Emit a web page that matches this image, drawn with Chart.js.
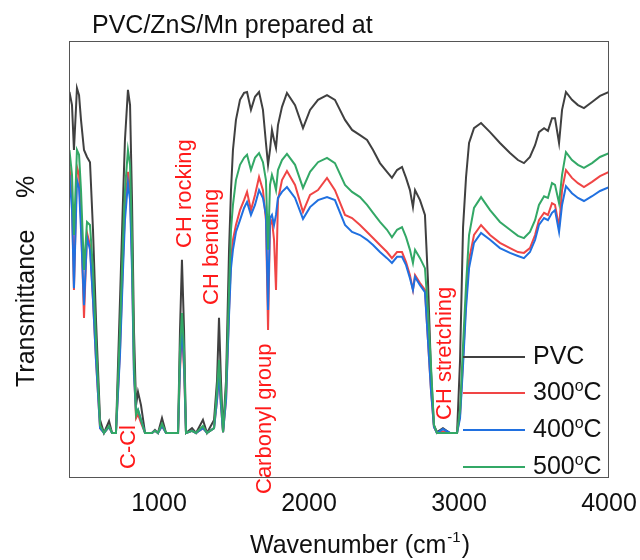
<!DOCTYPE html>
<html>
<head>
<meta charset="utf-8">
<script src="https://cdn.jsdelivr.net/npm/chart.js@4.4.0/dist/chart.umd.min.js"></script>
<style>
  body { margin: 0; background: #fff; }
</style>
</head>
<body>
<canvas id="ftir" width="640" height="560"></canvas>
<script>
// FTIR spectra, wavenumber in cm-1, transmittance in arbitrary %
const wavenumber = [
  403, 420, 433, 453, 467, 480, 500, 520, 540, 560,
  580, 607, 633, 667, 687, 713, 740, 760, 773, 793,
  807, 820, 833, 847, 860, 880, 907, 953, 973, 993,
  1020, 1047, 1127, 1140, 1153, 1167, 1180, 1220, 1247, 1293,
  1320, 1367, 1387, 1400, 1413, 1427, 1447, 1467, 1480, 1493,
  1513, 1540, 1567, 1587, 1613, 1640, 1667, 1693, 1713, 1727,
  1740, 1753, 1767, 1780, 1793, 1820, 1853, 1907, 1960, 2007,
  2060, 2120, 2173, 2240, 2287, 2340, 2387, 2427, 2473, 2520,
  2553, 2587, 2620, 2647, 2673, 2693, 2707, 2740, 2773, 2793,
  2813, 2833, 2853, 2893, 2940, 2987, 3007, 3027, 3047, 3067,
  3100, 3147, 3207, 3273, 3340, 3393, 3433, 3473, 3507, 3533,
  3567, 3593, 3620, 3640, 3667, 3687, 3713, 3753, 3793, 3833,
  3887, 3940, 4000
];

const pvc = [
  88.3, 85.3, 75, 89.2, 87.6, 81.9, 75, 73.4, 72.2, 56.7,
  36, 13.1, 10.1, 12.8, 10.1, 10.1, 40.6, 63.5, 77.3, 88.8,
  85.3, 63.5, 33.7, 16.5, 19.5, 16.5, 10.1, 10.1, 10.8, 10.1,
  13.5, 10.1, 10.1, 33.7, 49.8, 33.7, 10.1, 11.2, 10.1, 13.1,
  10.1, 13.1, 22.2, 36.5, 22.2, 10.3, 22.2, 52.1, 65.8, 75,
  81.9, 86.5, 88.1, 88.3, 84.2, 87.2, 88.3, 84.2, 76.6, 71.6,
  75, 79.6, 77.3, 75.5, 80.7, 84.9, 88.1, 85.3, 80, 84.2,
  86.5, 87.6, 86.5, 81.9, 79.6, 78.4, 77.3, 75, 72, 70,
  68.6, 70.4, 71.1, 68.6, 65.8, 61.9, 65.8, 63.5, 60.1, 45.2,
  24.5, 11.9, 10.3, 11.2, 10.1, 10.1, 26.8, 57.3, 68.8, 76.6,
  80, 81.2, 79.1, 76.6, 74.3, 72.7, 72, 73.4, 76.1, 79.1,
  80, 79.4, 82.3, 82.3, 76.6, 84.2, 88.3, 86.5, 85.3, 84.6,
  86, 87.4, 88.3
];

const t300 = [
  71.6, 63.5, 42.9, 71.1, 69.3, 58.9, 36.5, 56, 53.2, 40.6,
  26.8, 11.2, 10.1, 11.5, 10.1, 10.1, 29.1, 49.8, 61.2, 70,
  65.8, 49.8, 24.5, 13.5, 14.4, 12.4, 10.1, 10.1, 10.6, 10.1,
  11.7, 10.1, 10.1, 24.5, 33.7, 24.5, 10.1, 10.6, 10.1, 11.2,
  10.1, 11.2, 17.7, 23.4, 16.5, 10.3, 17.7, 38.3, 49.8, 54.4,
  57.8, 61.2, 63.5, 65.4, 61.2, 64.7, 68.8, 65.8, 58.9, 33.7,
  57.8, 58.9, 54.4, 42.9, 63.5, 68.1, 70.2, 67, 60.8, 64.7,
  65.8, 68.6, 65.8, 60.1, 59.4, 57.8, 56.2, 54.8, 53.2, 51.6,
  50.2, 51.6, 51.6, 49.3, 46.3, 42.9, 46.3, 44.5, 42.9, 31.4,
  20, 11.5, 10.1, 10.5, 10.1, 10.1, 14.2, 26.8, 40.6, 49.8,
  55.5, 57.8, 55.5, 53.7, 52.5, 51.6, 51.4, 52.5, 55.5, 58.9,
  60.6, 60.1, 62.8, 62.4, 57.3, 65.8, 70.4, 68.6, 67.4, 66.5,
  67.7, 69, 70
];

const t400 = [
  69.3, 61.2, 43.3, 68.1, 66.3, 56.7, 39.4, 55, 52.1, 40.6,
  26.8, 11.2, 10.1, 11.5, 10.1, 10.1, 28, 47.5, 58.9, 67.4,
  63.5, 47.5, 23.4, 14.9, 15.4, 13.1, 10.1, 10.1, 10.6, 10.1,
  11.7, 10.1, 10.1, 25.7, 34.9, 25.7, 10.1, 10.6, 10.1, 11.2,
  10.1, 11.2, 17.7, 24.1, 16.5, 10.3, 17.7, 37.2, 47.9, 52.1,
  56.2, 58.9, 61.7, 63.1, 60.1, 62.4, 65.8, 64, 60.1, 38.3,
  59.4, 60.1, 57.8, 60.1, 64, 65.4, 66.5, 64, 59.2, 61.9,
  63.5, 64.2, 63.5, 57.8, 56.2, 55.5, 54.4, 53.2, 51.6, 50.2,
  49.1, 50.5, 50.5, 48.6, 45.6, 42.9, 45.9, 44, 42.4, 31.4,
  20, 11.5, 10.1, 11, 10.1, 10.1, 13.5, 25.7, 38.8, 47.9,
  53.7, 56, 54.4, 52.5, 51.4, 50.7, 50.2, 51.6, 54.4, 57.8,
  59.4, 58.9, 60.6, 61.2, 56.2, 62.4, 66.7, 65.1, 64, 63.3,
  64.4, 65.6, 66.5
];

const t500 = [
  75, 69.3, 55.5, 75, 73.9, 65.8, 47.5, 58.5, 57.8, 47.5,
  31.4, 11.9, 10.1, 11.7, 10.1, 10.1, 33.7, 54.4, 65.8, 75,
  71.6, 54.4, 26.8, 14.2, 15.4, 13.1, 10.1, 10.1, 10.6, 10.1,
  12.2, 10.1, 10.1, 29.1, 37.6, 29.1, 10.1, 10.6, 10.1, 11.7,
  10.1, 11.2, 20, 26.8, 18.8, 10.3, 20, 42.9, 56.7, 62.4,
  68.1, 71.6, 73.2, 73.9, 70.4, 73.2, 74.3, 72.2, 68.1, 52.1,
  67, 69.3, 67.7, 65.8, 70.4, 72.7, 74.1, 71.6, 66.3, 70,
  72.2, 73.2, 72, 67, 65.4, 64.2, 62.4, 60.6, 58.5, 56.7,
  55, 56.7, 57.3, 55, 52.1, 49.1, 52.1, 50.2, 47.9, 38.3,
  25.7, 11.9, 10.1, 10.1, 10.1, 10.1, 15.4, 30.3, 44, 55.5,
  61.7, 64.2, 61.2, 58.5, 56.7, 55.3, 54.8, 56.2, 58.9, 62.4,
  64.4, 64, 67.4, 67, 62.8, 69.3, 74.5, 72.7, 71.6, 70.9,
  72, 73.4, 74.3
];

const tickValues = [1000, 2000, 3000, 4000];
const seriesNames = ["PVC", "300", "400", "500"];
const seriesColors = ["#404040", "#f04545", "#2070e0", "#33a866"];
const bandLabels = ["C-Cl", "CH rocking", "CH bending", "Carbonyl group", "CH stretching"];

const FONT = '"Liberation Sans", Arial, sans-serif';

function points(ys) {
  return wavenumber.map((x, i) => ({ x: x, y: ys[i] }));
}

// draws text rotated -90deg, (x, y) = start of the baseline
function vtext(ctx, txt, x, y, size, color) {
  ctx.save();
  ctx.translate(x, y);
  ctx.rotate(-Math.PI / 2);
  ctx.font = size + "px " + FONT;
  ctx.fillStyle = color;
  ctx.textAlign = "left";
  ctx.textBaseline = "alphabetic";
  ctx.fillText(txt, 0, 0);
  ctx.restore();
}

const decorations = {
  id: "decorations",
  afterDraw(chart) {
    const ctx = chart.ctx;
    const area = chart.chartArea;
    const xs = chart.scales.x;

    // frame
    ctx.save();
    ctx.strokeStyle = "#555";
    ctx.lineWidth = 1;
    ctx.strokeRect(area.left + 0.5, area.top + 0.5, area.right - area.left - 1, area.bottom - area.top);
    ctx.restore();

    // title
    ctx.save();
    ctx.fillStyle = "#111";
    ctx.font = "25px " + FONT;
    ctx.textBaseline = "alphabetic";
    ctx.fillText("PVC/ZnS/Mn prepared at", 92, 33);

    // x axis title with superscript
    let x = 250;
    const base = 553;
    ctx.font = "25px " + FONT;
    ctx.fillText("Wavenumber (cm", x, base);
    x += ctx.measureText("Wavenumber (cm").width;
    ctx.font = "15px " + FONT;
    ctx.fillText("-1", x + 1, base - 11);
    x += ctx.measureText("-1").width + 2;
    ctx.font = "25px " + FONT;
    ctx.fillText(")", x, base);
    ctx.restore();

    // y axis title
    vtext(ctx, "Transmittance", 34, 387, 25, "#111");
    vtext(ctx, "%", 34, 198, 25, "#111");

    // band labels
    const bandX = [840, 1213, 1393, 1747, 2947];
    const bandY = [469, 248, 305, 494, 420];
    bandLabels.forEach((t, i) => {
      vtext(ctx, t, xs.getPixelForValue(bandX[i]), bandY[i], 22, "#ff1a1a");
    });

    // legend
    const rowY = [357, 393, 430, 467];
    ctx.save();
    seriesNames.forEach((name, i) => {
      const y = rowY[i];
      ctx.strokeStyle = seriesColors[i];
      ctx.lineWidth = 2;
      ctx.beginPath();
      ctx.moveTo(463, y);
      ctx.lineTo(525, y);
      ctx.stroke();
      ctx.fillStyle = "#111";
      ctx.textBaseline = "middle";
      ctx.font = "25px " + FONT;
      let tx = 533;
      ctx.fillText(name, tx, y);
      if (name !== "PVC") {
        tx += ctx.measureText(name).width;
        ctx.font = "16px " + FONT;
        ctx.fillText("o", tx, y - 6);
        tx += ctx.measureText("o").width;
        ctx.font = "25px " + FONT;
        ctx.fillText("C", tx, y);
      }
    });
    ctx.restore();
  }
};

new Chart(document.getElementById("ftir"), {
  type: "line",
  data: {
    datasets: [
      { label: "PVC", data: points(pvc), borderColor: seriesColors[0], order: 3 },
      { label: "300", data: points(t300), borderColor: seriesColors[1], order: 2 },
      { label: "400", data: points(t400), borderColor: seriesColors[2], order: 1 },
      { label: "500", data: points(t500), borderColor: seriesColors[3], order: 0 },
    ],
  },
  options: {
    responsive: false,
    animation: false,
    devicePixelRatio: 1,
    layout: {
      padding: { left: 69, right: 31, top: 41, bottom: 0 },
    },
    elements: {
      line: { borderWidth: 2, tension: 0 },
      point: { radius: 0 },
    },
    plugins: {
      legend: { display: false },
      tooltip: { enabled: false },
    },
    scales: {
      x: {
        type: "linear",
        min: 400,
        max: 4000,
        grid: { display: false, drawTicks: false },
        border: { display: false },
        afterBuildTicks: (axis) => {
          axis.ticks = tickValues.map((v) => ({ value: v }));
        },
        afterFit: (axis) => {
          axis.height = 83;
          axis.paddingLeft = 0;
          axis.paddingRight = 0;
        },
        ticks: {
          padding: 12,
          maxRotation: 0,
          color: "#111",
          font: { family: FONT, size: 25 },
          callback: (v) => String(v),
        },
      },
      y: {
        display: false,
        min: 0,
        max: 100,
      },
    },
  },
  plugins: [decorations],
});
</script>
</body>
</html>
